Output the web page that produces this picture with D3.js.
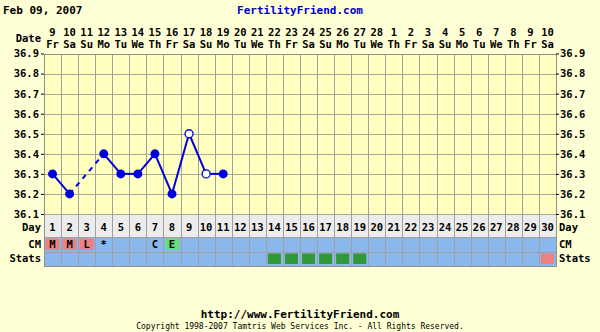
<!DOCTYPE html>
<html><head><meta charset="utf-8">
<script src="https://cdn.jsdelivr.net/npm/d3@7"></script>
<style>
html,body{margin:0;padding:0;background:#ffffd6;}
svg{display:block;}
text{font-family:"DejaVu Sans Mono","Liberation Mono",monospace;font-weight:bold;fill:#000;}
</style></head>
<body>
<svg id="chart" width="600" height="332"></svg>
<script>
const headerDate = "Feb 09, 2007";
const siteTitle = "FertilityFriend.com";
const dates = [9,10,11,12,13,14,15,16,17,18,19,20,21,22,23,24,25,26,27,28,1,2,3,4,5,6,7,8,9,10];
const weekdays = ["Fr","Sa","Su","Mo","Tu","We","Th","Fr","Sa","Su","Mo","Tu","We","Th","Fr","Sa","Su","Mo","Tu","We","Th","Fr","Sa","Su","Mo","Tu","We","Th","Fr","Sa"];
const cycleDays = d3.range(1,31);
const tempDays = [1,2,4,5,6,7,8,9,10,11];
const temps    = [36.3,36.2,36.4,36.3,36.3,36.4,36.2,36.5,36.3,36.3];
const openDays = [9,10];
const tempTicks = [36.1,36.2,36.3,36.4,36.5,36.6,36.7,36.8,36.9];
const cmDays = [1,2,3,4,7,8];
const cmCodes = ["M","M","L","*","C","E"];
const cmKinds = ["flow","flow","flow","none","none","egg"];
const statDays = [14,15,16,17,18,19,30];
const statKinds = ["high","high","high","high","high","high","flow"];
const footerUrl = "http://www.FertilityFriend.com";
const footerCopy = "Copyright 1998-2007 Tamtris Web Services Inc. - All Rights Reserved.";

const svg = d3.select("#chart");
const L = 44, R = 556, T = 53.5, B = 214;
const rowDay = [214, 237], rowCM = [237, 251.5], rowSt = [251.5, 266];

const x = d3.scaleBand().domain(cycleDays).range([L, R]);
const y = d3.scaleLinear().domain([36.1, 36.9]).range([B, T]);
const cx = d => x(d) + x.bandwidth()/2;

const colors = {flow:"#ee8080", egg:"#66dd77", high:"#2f9a35", none:null};

// header
svg.append("text").attr("x",3).attr("y",14).style("font-size","11px").text(headerDate);
svg.append("text").attr("x",300).attr("y",14).attr("text-anchor","middle")
  .style("font-size","11px").style("fill","#0000cc").text(siteTitle);

// date header
svg.append("text").attr("x",41).attr("y",42).attr("text-anchor","end").style("font-size","10.5px").text("Date");
svg.selectAll(".dn").data(cycleDays).enter().append("text")
  .attr("x", d=>cx(d)).attr("y",36).attr("text-anchor","middle").style("font-size","10.5px")
  .text(d=>dates[d-1]);
svg.selectAll(".wd").data(cycleDays).enter().append("text")
  .attr("x", d=>cx(d)).attr("y",48).attr("text-anchor","middle").style("font-size","10.5px")
  .text(d=>weekdays[d-1]);

// plot area background
svg.append("rect").attr("x",L).attr("y",T).attr("width",R-L).attr("height",B-T).attr("fill","#ffffc0");
svg.append("rect").attr("x",L).attr("y",rowDay[0]).attr("width",R-L).attr("height",rowDay[1]-rowDay[0]).attr("fill","#ececec");
svg.append("rect").attr("x",L).attr("y",rowCM[0]).attr("width",R-L).attr("height",rowSt[1]-rowCM[0]).attr("fill","#8ab8ec");

// CM cells
svg.selectAll(".cm").data(cmDays.map((d,i)=>({d,c:cmCodes[i],k:cmKinds[i]})).filter(o=>colors[o.k]))
  .enter().append("rect")
  .attr("x",o=>x(o.d)+1.5).attr("y",rowCM[0]+1.5).attr("width",x.bandwidth()-3).attr("height",rowCM[1]-rowCM[0]-3)
  .attr("fill",o=>colors[o.k]);
// stats cells
svg.selectAll(".st").data(statDays.map((d,i)=>({d,k:statKinds[i]})))
  .enter().append("rect")
  .attr("x",o=>x(o.d)+2).attr("y",rowSt[0]+2).attr("width",x.bandwidth()-4).attr("height",rowSt[1]-rowSt[0]-4)
  .attr("fill",o=>colors[o.k]);

// grid
const g = svg.append("g").attr("shape-rendering","crispEdges");
g.selectAll(".hg").data(tempTicks).enter().append("line")
  .attr("x1",L).attr("x2",R).attr("y1",d=>Math.round(y(d))+0.5).attr("y2",d=>Math.round(y(d))+0.5)
  .attr("stroke","#a8a8a0");
g.selectAll(".vg").data(d3.range(0,31)).enter().append("line")
  .attr("x1",i=>Math.round(L+i*x.step())+0.5).attr("x2",i=>Math.round(L+i*x.step())+0.5)
  .attr("y1",T).attr("y2",rowSt[1]).attr("stroke","#a0a0a0");
[rowDay[1], rowCM[1], rowSt[1]].forEach(v=>{
  g.append("line").attr("x1",L).attr("x2",R).attr("y1",Math.round(v)+0.5).attr("y2",Math.round(v)+0.5).attr("stroke","#a0a0a0");
});
g.append("rect").attr("x",L+0.5).attr("y",Math.round(T)+0.5).attr("width",R-L).attr("height",Math.round(rowSt[1])-Math.round(T))
  .attr("fill","none").attr("stroke","#909090");

// y axes
const axL = d3.axisLeft(y).tickValues(tempTicks).tickFormat(d3.format(".1f")).tickSize(3).tickPadding(2);
const axR = d3.axisRight(y).tickValues(tempTicks).tickFormat(d3.format(".1f")).tickSize(3).tickPadding(1);
const gl = svg.append("g").attr("transform",`translate(${L},0)`).call(axL);
const gr = svg.append("g").attr("transform",`translate(${R},0)`).call(axR);
[gl,gr].forEach(a=>{
  a.select(".domain").remove();
  a.selectAll("line").attr("stroke","#000");
  a.selectAll("text").style("font-size","10.5px").style("font-family","'DejaVu Sans Mono',monospace").style("font-weight","bold").attr("fill","#000");
});

// row labels
const rowLabels = [["Day",(rowDay[0]+rowDay[1])/2+2],["CM",(rowCM[0]+rowCM[1])/2],["Stats",(rowSt[0]+rowSt[1])/2]];
rowLabels.forEach(([t,yy])=>{
  svg.append("text").attr("x",41).attr("y",yy).attr("dy","0.35em").attr("text-anchor","end").style("font-size","10.5px").text(t);
  svg.append("text").attr("x",559).attr("y",yy).attr("dy","0.35em").style("font-size","10.5px").text(t);
});

// day numbers
svg.selectAll(".cd").data(cycleDays).enter().append("text")
  .attr("x",d=>cx(d)).attr("y",(rowDay[0]+rowDay[1])/2+2).attr("dy","0.35em").attr("text-anchor","middle")
  .style("font-size","10.5px").text(d=>d);
// CM codes
svg.selectAll(".cmt").data(cmDays).enter().append("text")
  .attr("x",d=>cx(d)).attr("y",(rowCM[0]+rowCM[1])/2).attr("dy","0.35em").attr("text-anchor","middle")
  .style("font-size","10.5px").text((d,i)=>cmCodes[i]);

// temperature line
const pts = tempDays.map((d,i)=>({d,v:temps[i]}));
const segs = d3.pairs(pts);
svg.selectAll(".seg").data(segs).enter().append("line")
  .attr("x1",s=>cx(s[0].d)).attr("y1",s=>y(s[0].v)).attr("x2",s=>cx(s[1].d)).attr("y2",s=>y(s[1].v))
  .attr("stroke","#0000dd").attr("stroke-width",2)
  .attr("stroke-dasharray",s=>s[1].d-s[0].d>1?"5,5":null);
svg.selectAll(".pt").data(pts).enter().append("circle")
  .attr("cx",p=>cx(p.d)).attr("cy",p=>y(p.v)).attr("r",p=>openDays.includes(p.d)?4:4.5)
  .attr("fill",p=>openDays.includes(p.d)?"#ffffff":"#0000dd")
  .attr("stroke","#0000dd").attr("stroke-width",p=>openDays.includes(p.d)?1.3:0);

// footer
svg.append("text").attr("x",300).attr("y",318).attr("text-anchor","middle").style("font-size","11px").text(footerUrl);
svg.append("text").attr("x",300).attr("y",329).attr("text-anchor","middle").style("font-size","8px").style("font-weight","normal").text(footerCopy);
</script>
</body></html>
